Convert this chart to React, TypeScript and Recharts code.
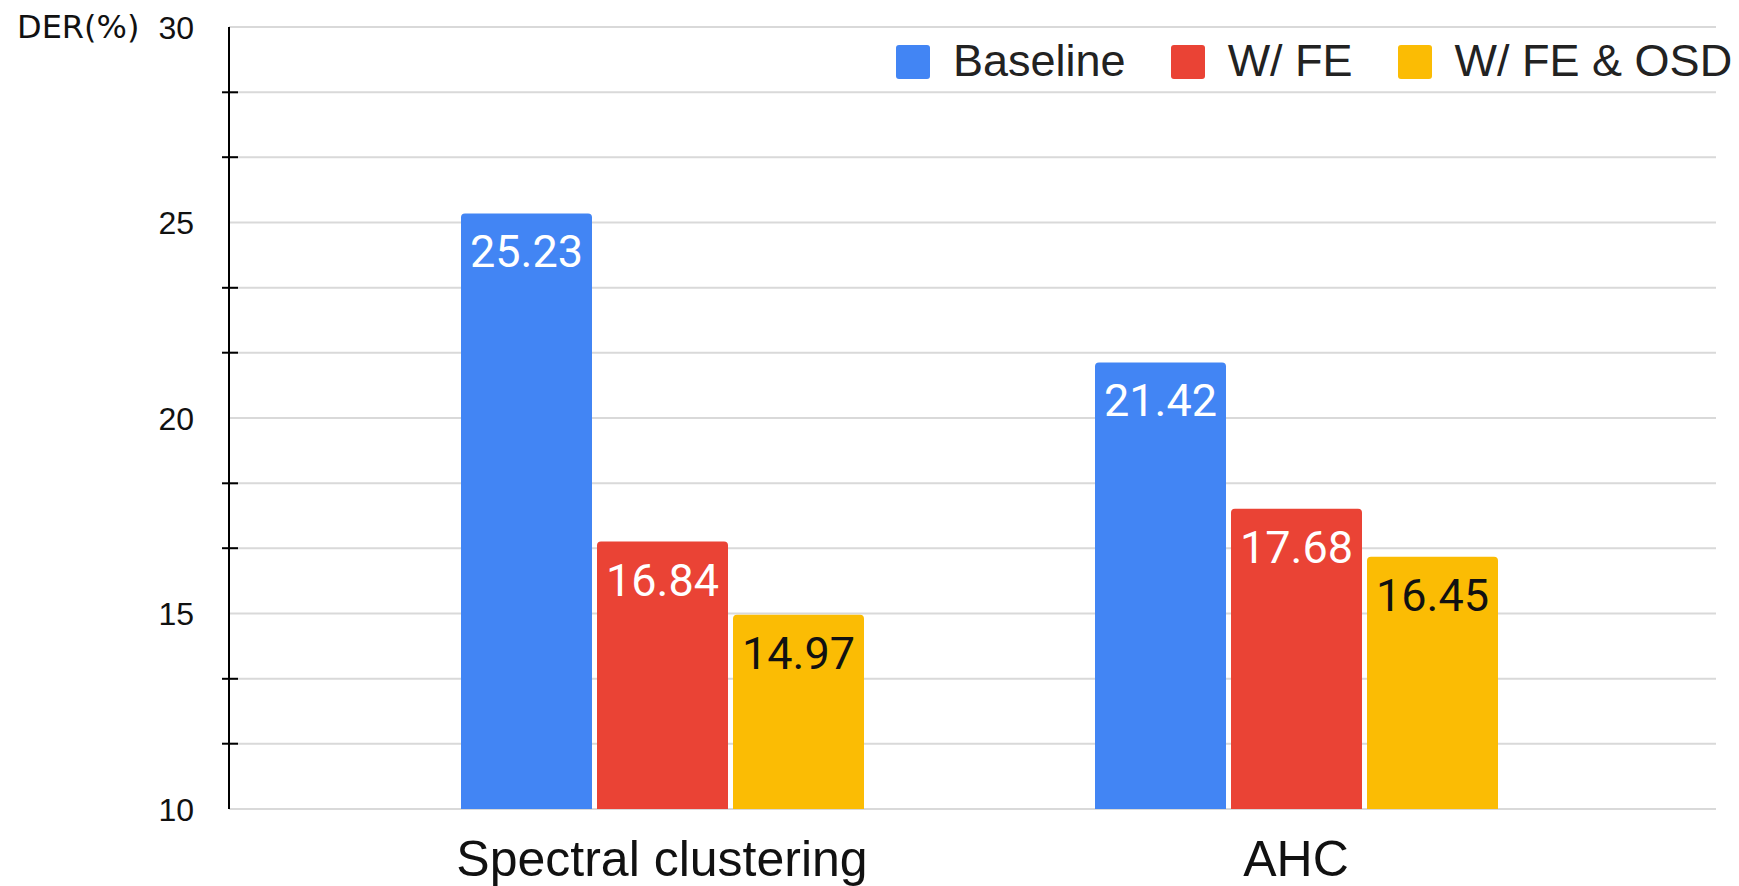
import React from "react";
import {
  BarChart,
  Bar,
  XAxis,
  YAxis,
  CartesianGrid,
  Legend,
  LabelList,
} from "recharts";

const CATEGORIES = ["Spectral clustering", "AHC"];
const BASELINE = [25.23, 21.42];
const WITH_FE = [16.84, 17.68];
const WITH_FE_OSD = [14.97, 16.45];

// gridlines every 5/3, labels only on multiples of 5
const Y_TICKS = [10, 11.67, 13.33, 15, 16.67, 18.33, 20, 21.67, 23.33, 25, 26.67, 28.33, 30];
const Y_LABELS = [10, 15, 20, 25, 30];

const SERIES = [
  { key: "baseline", name: "Baseline", color: "#4285F4", labelColor: "#ffffff" },
  { key: "fe", name: "W/ FE", color: "#EA4335", labelColor: "#ffffff" },
  { key: "feOsd", name: "W/ FE & OSD", color: "#FBBC04", labelColor: "#111111" },
];

const data = CATEGORIES.map((name, i) => ({
  name,
  baseline: BASELINE[i],
  fe: WITH_FE[i],
  feOsd: WITH_FE_OSD[i],
}));

const YTick = (props: any) => {
  const { x, y, payload } = props;
  const v = payload.value;
  const labeled = Y_LABELS.some((l) => Math.abs(l - v) < 0.01);
  if (labeled) {
    return (
      <text
        x={x}
        y={y}
        dy="0.36em"
        textAnchor="end"
        fontFamily="Arial, 'Liberation Sans', sans-serif"
        fontSize={32}
        fill="#111"
      >
        {v}
      </text>
    );
  }
  return <line x1={x + 28} x2={x + 44} y1={y} y2={y} stroke="#000" strokeWidth={2} />;
};

const LegendContent = () => (
  <div
    style={{
      display: "flex",
      alignItems: "center",
      fontFamily: "Arial, 'Liberation Sans', sans-serif",
      fontSize: 45,
      color: "#222",
    }}
  >
    {SERIES.map((s, i) => (
      <div key={s.key} style={{ display: "flex", alignItems: "center", marginLeft: i === 0 ? 0 : 45 }}>
        <div style={{ width: 34, height: 34, borderRadius: 3, background: s.color }} />
        <span style={{ marginLeft: 23, lineHeight: "34px", position: "relative", top: -1 }}>{s.name}</span>
      </div>
    ))}
  </div>
);

export default function App() {
  return (
    <div style={{ position: "absolute", left: 0, top: 0, background: "#fff" }}>
      <BarChart
        width={1739}
        height={886}
        data={data}
        margin={{ top: 27, right: 23, left: 0, bottom: 0 }}
        barCategoryGap={116}
        barGap={5}
      >
        <CartesianGrid vertical={false} stroke="#d9d9d9" strokeWidth={2} />
        <XAxis
          dataKey="name"
          height={77}
          axisLine={false}
          tickLine={false}
          tickSize={0}
          tickMargin={31}
          padding={{ left: 116, right: 103 }}
          tick={{ fontFamily: "Arial, 'Liberation Sans', sans-serif", fontSize: 50, fill: "#111" }}
        />
        <YAxis
          width={229}
          domain={[10, 30]}
          ticks={Y_TICKS}
          interval={0}
          allowDataOverflow
          tickLine={false}
          tickSize={0}
          tickMargin={35}
          axisLine={{ stroke: "#000", strokeWidth: 2 }}
          tick={<YTick />}
          label={{
            content: () => (
              <text
                x={17}
                y={38}
                fontFamily="'DejaVu Sans', sans-serif"
                fontSize={32}
                fill="#111"
              >
                DER(%)
              </text>
            ),
          }}
        />
        <Legend
          layout="horizontal"
          verticalAlign="middle"
          align="center"
          wrapperStyle={{ top: 45, left: 896, width: "auto", height: 34 }}
          content={<LegendContent />}
        />
        {SERIES.map((s) => (
          <Bar
            key={s.key}
            dataKey={s.key}
            name={s.name}
            fill={s.color}
            radius={[4, 4, 0, 0]}
            isAnimationActive={false}
          >
            <LabelList
              dataKey={s.key}
              position="insideTop"
              offset={22}
              fill={s.labelColor}
              fontFamily="Roboto, sans-serif"
              fontSize={45}
            />
          </Bar>
        ))}
      </BarChart>
    </div>
  );
}
